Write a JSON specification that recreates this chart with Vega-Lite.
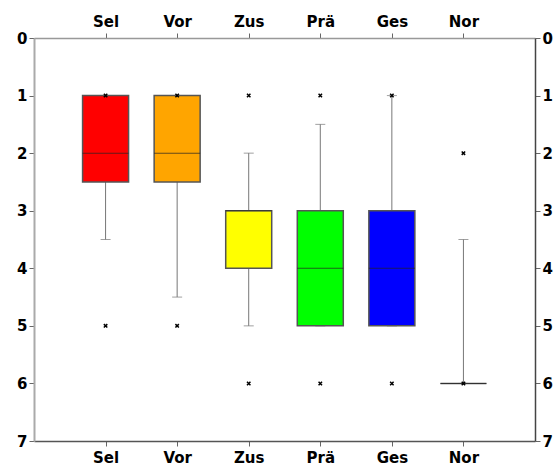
{
  "$schema": "https://vega.github.io/schema/vega-lite/v6.json",
  "width": 501,
  "height": 403,
  "autosize": {"type": "none"},
  "padding": {"left": 34, "top": 38, "right": 25, "bottom": 25},
  "background": "white",
  "config": {
    "view": {"stroke": null},
    "axis": {"grid": false, "labelFont": "DejaVu Sans", "labelFontWeight": "bold", "labelFontSize": 15, "labelColor": "black", "title": null, "tickColor": "#666", "tickSize": 5}
  },
  "datasets": {
    "boxes": [
      {"cat": "Sel", "lo": 1, "q1": 1, "med": 2, "q3": 2.5, "hi": 3.5, "col": "#ff0000"},
      {"cat": "Vor", "lo": 1, "q1": 1, "med": 2, "q3": 2.5, "hi": 4.5, "col": "#ffa500"},
      {"cat": "Zus", "lo": 2, "q1": 3, "med": 3, "q3": 4, "hi": 5, "col": "#ffff00"},
      {"cat": "Prä", "lo": 1.5, "q1": 3, "med": 4, "q3": 5, "hi": 5, "col": "#00ff00"},
      {"cat": "Ges", "lo": 1, "q1": 3, "med": 4, "q3": 5, "hi": 5, "col": "#0000ff"},
      {"cat": "Nor", "lo": 3.5, "q1": 6, "med": 6, "q3": 6, "hi": 6, "col": "#ff00ff"}
    ],
    "outliers": [
      {"cat": "Sel", "v": 1}, {"cat": "Sel", "v": 5},
      {"cat": "Vor", "v": 1}, {"cat": "Vor", "v": 5},
      {"cat": "Zus", "v": 1}, {"cat": "Zus", "v": 6},
      {"cat": "Prä", "v": 1}, {"cat": "Prä", "v": 6},
      {"cat": "Ges", "v": 1}, {"cat": "Ges", "v": 6},
      {"cat": "Nor", "v": 2}, {"cat": "Nor", "v": 6}
    ]
  },
  "resolve": {"axis": {"x": "independent", "y": "independent"}},
  "layer": [
    {
      "data": {"name": "boxes"},
      "mark": {"type": "rule", "color": "#777", "strokeWidth": 1},
      "encoding": {
        "x": {"field": "cat", "type": "ordinal", "sort": ["Sel", "Vor", "Zus", "Prä", "Ges", "Nor"], "scale": {"type": "point", "padding": 1},
              "axis": {"orient": "bottom", "labelAngle": 0, "domainColor": "#555", "domainWidth": 1.5, "labelPadding": 4}},
        "y": {"field": "lo", "type": "quantitative", "scale": {"domain": [0, 7], "reverse": true, "nice": false},
              "axis": {"orient": "left", "values": [0, 1, 2, 3, 4, 5, 6, 7], "domainColor": "#aaa", "domainWidth": 2, "labelPadding": 2}},
        "y2": {"field": "hi"}
      }
    },
    {
      "data": {"name": "boxes"},
      "mark": {"type": "tick", "color": "#777", "size": 10, "thickness": 1},
      "encoding": {
        "x": {"field": "cat", "type": "ordinal", "sort": ["Sel", "Vor", "Zus", "Prä", "Ges", "Nor"], "scale": {"type": "point", "padding": 1},
              "axis": {"orient": "top", "labelAngle": 0, "domainColor": "#999", "domainWidth": 1.5, "labelPadding": 4}},
        "y": {"field": "lo", "type": "quantitative",
              "axis": {"orient": "right", "values": [0, 1, 2, 3, 4, 5, 6, 7], "domainColor": "#444", "domainWidth": 1.5, "labelPadding": 2}}
      }
    },
    {
      "data": {"name": "boxes"},
      "mark": {"type": "tick", "color": "#777", "size": 10, "thickness": 1},
      "encoding": {
        "x": {"field": "cat", "type": "ordinal", "sort": ["Sel", "Vor", "Zus", "Prä", "Ges", "Nor"], "axis": null},
        "y": {"field": "hi", "type": "quantitative", "axis": null}
      }
    },
    {
      "data": {"name": "boxes"},
      "mark": {"type": "bar", "width": 46, "stroke": "#555", "strokeWidth": 1.5},
      "encoding": {
        "x": {"field": "cat", "type": "ordinal", "sort": ["Sel", "Vor", "Zus", "Prä", "Ges", "Nor"], "axis": null},
        "y": {"field": "q1", "type": "quantitative", "axis": null},
        "y2": {"field": "q3"},
        "fill": {"field": "col", "type": "nominal", "scale": null}
      }
    },
    {
      "data": {"name": "boxes"},
      "mark": {"type": "tick", "color": "#222", "size": 46, "thickness": 1},
      "encoding": {
        "x": {"field": "cat", "type": "ordinal", "sort": ["Sel", "Vor", "Zus", "Prä", "Ges", "Nor"], "axis": null},
        "y": {"field": "med", "type": "quantitative", "axis": null}
      }
    },
    {
      "data": {"name": "outliers"},
      "mark": {"type": "point", "shape": "M-1,-1L1,1M1,-1L-1,1", "size": 12, "filled": false, "stroke": "black", "strokeWidth": 1.5, "opacity": 1},
      "encoding": {
        "x": {"field": "cat", "type": "ordinal", "sort": ["Sel", "Vor", "Zus", "Prä", "Ges", "Nor"], "axis": null},
        "y": {"field": "v", "type": "quantitative", "axis": null}
      }
    }
  ]
}
